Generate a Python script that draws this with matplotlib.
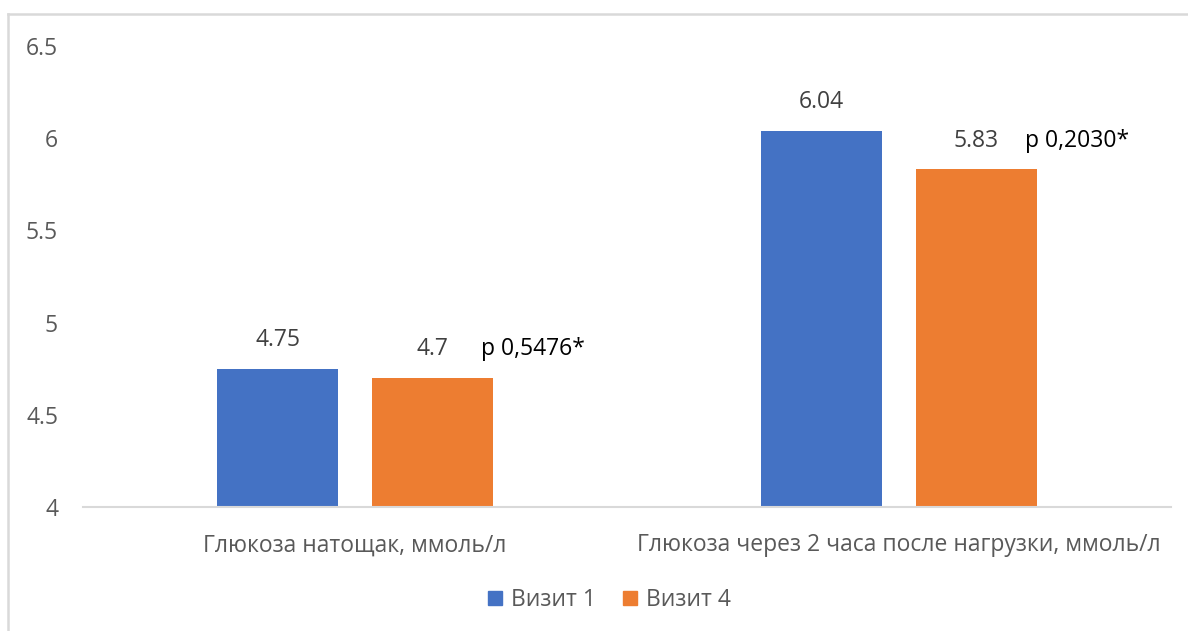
import matplotlib
matplotlib.use("Agg")
import matplotlib.pyplot as plt
from matplotlib.lines import Line2D
from matplotlib.patches import Patch

plt.rcParams['font.family'] = ['Open Sans', 'DejaVu Sans']

categories = ["Глюкоза натощак, ммоль/л", "Глюкоза через 2 часа после нагрузки, ммоль/л"]
series_names = ["Визит 1", "Визит 4"]
visit1 = [4.75, 6.04]
visit4 = [4.7, 5.83]
p_values = ["p 0,5476*", "p 0,2030*"]
colors = ["#4472C4", "#ED7D31"]

fig = plt.figure(figsize=(11.88, 6.31), dpi=100)
ax = fig.add_axes([0.0699, 0.1965, 0.9158, 0.731])

x = range(len(categories))
w = 0.222
off = 0.142
b1 = ax.bar([i - off for i in x], [v - 4 for v in visit1], w, bottom=4, color=colors[0])
b2 = ax.bar([i + off for i in x], [v - 4 for v in visit4], w, bottom=4, color=colors[1])

for i, v in enumerate(visit1):
    ax.annotate(f"{v:g}", (i - off, v), xytext=(0, 12), textcoords="offset points",
                ha="center", va="bottom", fontsize=16.5, color="#404040")
for i, v in enumerate(visit4):
    ax.annotate(f"{v:g}", (i + off, v), xytext=(0, 12), textcoords="offset points",
                ha="center", va="bottom", fontsize=16.5, color="#404040")
    # p-value next to the orange bar label
    ax.annotate(p_values[i], (i + 0.232, v), xytext=(0, 12), textcoords="offset points",
                ha="left", va="bottom", fontsize=16.5, color="black")

ax.set_xlim(-0.5, 1.5)
ax.set_ylim(4, 6.5)
ax.set_yticks([4, 4.5, 5, 5.5, 6, 6.5])
ax.set_yticklabels(["4", "4.5", "5", "5.5", "6", "6.5"])
ax.set_xticks(list(x))
ax.set_xticklabels(categories)
ax.tick_params(axis="both", length=0, labelsize=16.5, colors="#595959")
ax.tick_params(axis="x", pad=19)
ax.tick_params(axis="y", pad=18)

for s in ["top", "right", "left"]:
    ax.spines[s].set_visible(False)
ax.spines["bottom"].set_color("#D9D9D9")
ax.spines["bottom"].set_linewidth(1.5)

# chart frame (only left and top edges are visible in the crop)
fig.add_artist(Line2D([8 / 1188, 8 / 1188], [0, 1 - 14 / 631], color="#D9D9D9", lw=1.8))
fig.add_artist(Line2D([8 / 1188, 1], [1 - 14 / 631, 1 - 14 / 631], color="#D9D9D9", lw=1.8))

handles = [Patch(color=c, label=n) for c, n in zip(colors, series_names)]
fig.legend(handles=handles, loc="center", bbox_to_anchor=(0.513, 0.049), ncol=2,
           frameon=False, fontsize=16.5, handlelength=0.6, handleheight=0.6,
           handletextpad=0.4, columnspacing=1.2, labelcolor="#595959")

fig.savefig("out.png", dpi=100)
